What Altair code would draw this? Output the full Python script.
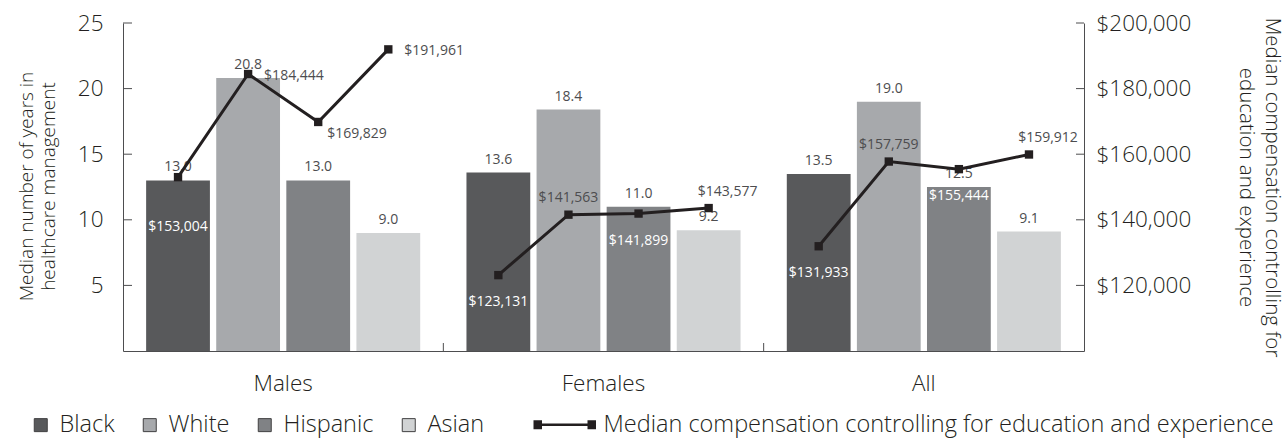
import altair as alt
import pandas as pd

# ---------------- data ----------------
groups = ["Males", "Females", "All"]
races = ["Black", "White", "Hispanic", "Asian"]
years_males = [13.0, 20.8, 13.0, 9.0]
years_females = [13.6, 18.4, 11.0, 9.2]
years_all = [13.5, 19.0, 12.5, 9.1]
comp_males = [153004, 184444, 169829, 191961]
comp_females = [123131, 141563, 141899, 143577]
comp_all = [131933, 157759, 155444, 159912]
years_ticks = [5, 10, 15, 20, 25]
comp_ticks = [120000, 140000, 160000, 180000, 200000]
series_name = "Median compensation controlling for education and experience"
left_title = ["Median number of years in", "healthcare management"]
right_title = ["Median compensation controlling for", "education and experience"]

# ---------------- styles ----------------
race_colors = ["#58595b", "#a7a9ac", "#808285", "#d1d3d4"]
DARK = "#231f20"
AXIS = "#4d4d4f"
LABEL = "#4d4d4f"
FONT = "Open Sans"
W, H = 961, 328

# label placement for the compensation annotations (style only)
label_place = {
    ("Males", "Black"): "inside", ("Males", "White"): "right",
    ("Males", "Hispanic"): "below-right", ("Males", "Asian"): "right",
    ("Females", "Black"): "below", ("Females", "White"): "above",
    ("Females", "Hispanic"): "below", ("Females", "Asian"): "above-right",
    ("All", "Black"): "below", ("All", "White"): "above",
    ("All", "Hispanic"): "below", ("All", "Asian"): "above-right",
}
place_style = {
    "inside": dict(dx=0, dy=50, align="center", color="white"),
    "below": dict(dx=0, dy=27, align="center", color="white"),
    "above": dict(dx=0, dy=-17, align="center", color=LABEL),
    "right": dict(dx=16, dy=2, align="left", color=LABEL),
    "below-right": dict(dx=9, dy=12, align="left", color=LABEL),
    "above-right": dict(dx=19, dy=-16, align="center", color=LABEL),
}

rows = []
for g, ys, cs in zip(groups, [years_males, years_females, years_all],
                     [comp_males, comp_females, comp_all]):
    for i, (r, y, c) in enumerate(zip(races, ys, cs)):
        rows.append({"group": g, "race": r, "idx": i, "years": y, "comp": c,
                     "place": label_place[(g, r)], "series": series_name})
df = pd.DataFrame(rows)

x_scale = alt.Scale(paddingInner=0, paddingOuter=0)
xo_scale = alt.Scale(paddingInner=0.09, paddingOuter=0.33)
y_left_scale = alt.Scale(domain=[0, 25], nice=False, zero=True)
y_right_scale = alt.Scale(domain=[100000, 200000], nice=False, zero=False)

x_axis = alt.Axis(labelAngle=0, ticks=False, tickSize=0, labelPadding=21,
                  labelFontSize=22.5, domainColor=AXIS, title=None)
y_left_axis = alt.Axis(values=years_ticks, ticks=False, tickSize=0, grid=False,
                       labelPadding=20, labelFontSize=22.5, title=left_title,
                       titleFontSize=19, titleAngle=270, titleAlign="center",
                       titleBaseline="alphabetic", titleLineHeight=22,
                       titleX=-91, titleY=163)
y_right_axis = alt.Axis(orient="right", values=comp_ticks, format="$,.0f",
                        ticks=False, tickSize=0, grid=False, labelPadding=12,
                        labelFontSize=22.5, title=right_title, titleFontSize=20.5,
                        titleAngle=90, titleAlign="center",
                        titleBaseline="alphabetic", titleLineHeight=26,
                        titleX=181, titleY=164)


def X(**kw):
    return alt.X("group:N", sort=groups, scale=x_scale, title=None, axis=x_axis, **kw)


def XO():
    return alt.XOffset("race:N", sort=races, scale=xo_scale)


def YL():
    return alt.Y("years:Q", scale=y_left_scale, title=left_title, axis=y_left_axis)


def YR():
    return alt.Y("comp:Q", scale=y_right_scale, title=right_title, axis=y_right_axis)


base = alt.Chart(df)

# ---------- left (years) layer ----------
bars = base.mark_bar().encode(
    x=X(), xOffset=XO(), y=YL(),
    color=alt.Color("race:N", sort=races,
                    scale=alt.Scale(domain=races, range=race_colors),
                    legend=alt.Legend(orient="none", legendX=-94, legendY=390,
                                      direction="horizontal", title=None,
                                      symbolType="square", symbolSize=169,
                                      symbolStrokeColor="#414042", symbolStrokeWidth=1,
                                      labelFontSize=23.5, labelOffset=7, columnPadding=23,
                                      padding=0, labelColor=DARK, labelFont=FONT,
                                      labelLimit=1000)),
)

bar_labels = base.mark_text(baseline="bottom", dy=-6, fontSize=14, color=LABEL).encode(
    x=X(), xOffset=XO(), y=YL(),
    text=alt.Text("years:Q", format=".1f"),
)

left_ticks = alt.Chart(pd.DataFrame({"years": years_ticks})).mark_rule(
    color=AXIS, strokeWidth=1).encode(
    y=YL(), x=alt.value(0), x2=alt.value(9),
)

group_ticks = alt.Chart(pd.DataFrame({"group": groups[1:]})).mark_rule(
    color=AXIS, strokeWidth=1).encode(
    x=X(bandPosition=0),
    y=alt.value(H - 8), y2=alt.value(H),
)

left = alt.layer(bars, bar_labels, left_ticks, group_ticks)

# ---------- right (compensation) layer ----------
line = base.mark_line(color=DARK, strokeWidth=3).encode(
    x=X(), xOffset=XO(), y=YR(),
    detail="group:N",
    order=alt.Order("idx:Q"),
)

legend_path = "M-7.5,-0.8H-6V0.8H-7.5Z M-6,0H6 M6,-0.8H7.5V0.8H6Z"
points = base.mark_point(shape="square", filled=True, size=70, opacity=1).encode(
    x=X(), xOffset=XO(), y=YR(),
    color=alt.Color("series:N", scale=alt.Scale(domain=[series_name], range=[DARK]),
                    legend=alt.Legend(orient="none", legendX=430, legendY=390,
                                      title=None, symbolType=legend_path, symbolSize=64,
                                      symbolStrokeColor=DARK, symbolStrokeWidth=2.5,
                                      labelFontSize=23.5, labelOffset=27, padding=0,
                                      labelColor=DARK, labelFont=FONT, labelLimit=1000)),
)

comp_label_layers = []
for name, st in place_style.items():
    comp_label_layers.append(
        base.transform_filter(alt.datum.place == name).mark_text(
            fontSize=14, baseline="middle", dx=st["dx"], dy=st["dy"],
            align=st["align"], color=st["color"]).encode(
            x=X(), xOffset=XO(), y=YR(),
            text=alt.Text("comp:Q", format="$,.0f"),
        )
    )

right_ticks = alt.Chart(pd.DataFrame({"comp": comp_ticks})).mark_rule(
    color=AXIS, strokeWidth=1).encode(
    y=YR(), x=alt.value(W - 8), x2=alt.value(W),
)

right = alt.layer(line, points, *comp_label_layers, right_ticks)

chart = alt.layer(left, right).resolve_scale(
    y="independent", color="independent"
).properties(
    width=W, height=H,
    padding={"left": 123, "top": 23, "right": 1288 - 123 - W, "bottom": 438 - 23 - H},
    autosize=alt.AutoSizeParams(type="none"),
).configure_view(stroke=None).configure_axis(
    labelFont=FONT, titleFont=FONT, labelColor=DARK, titleColor=DARK,
    titleFontWeight=300, labelFontWeight=300, domainColor=AXIS, domainWidth=1,
).configure_legend(labelFont=FONT, labelFontWeight=300).configure_text(font=FONT)

chart.save("out.html", embed_options={"renderer": "svg", "actions": False})
